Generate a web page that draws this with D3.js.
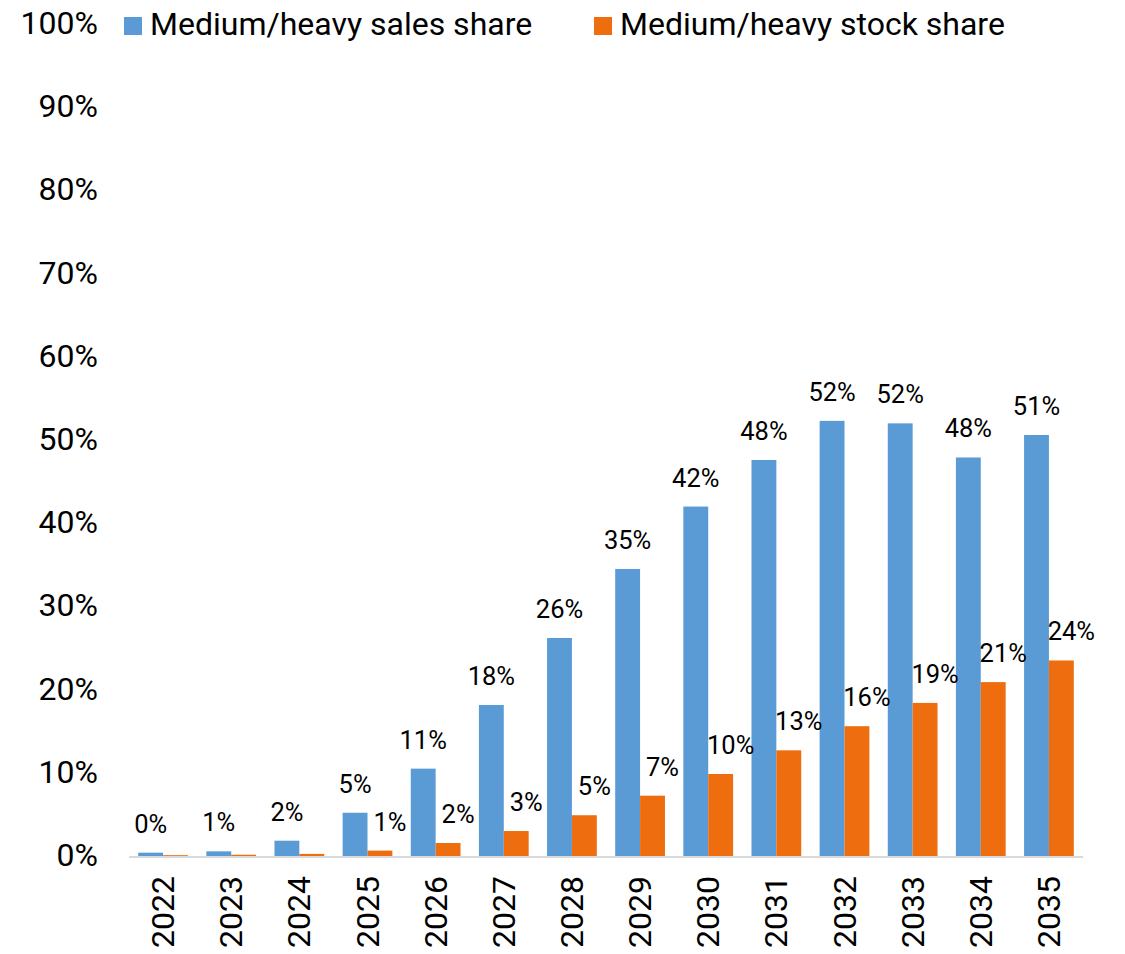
<!DOCTYPE html>
<html><head><meta charset="utf-8">
<script src="https://cdn.jsdelivr.net/npm/d3@7"></script>
<style>html,body{margin:0;padding:0;background:#fff;}svg{display:block;font-family:Roboto,"Noto Sans",sans-serif;}</style>
</head><body><div id="chart"></div>
<script>
const years = ["2022","2023","2024","2025","2026","2027","2028","2029","2030","2031","2032","2033","2034","2035"];
const salesShare = [0.4,0.56,1.84,5.2,10.5,18.15,26.2,34.5,42.0,47.6,52.3,52.0,47.9,50.6];
const stockShare = [0.1,0.15,0.25,0.65,1.56,3.0,4.9,7.25,9.86,12.7,15.6,18.4,20.9,23.5];
const salesLabels = ["0%","1%","2%","5%","11%","18%","26%","35%","42%","48%","52%","52%","48%","51%"];
const stockLabels = ["","","","1%","2%","3%","5%","7%","10%","13%","16%","19%","21%","24%"];
const yTicks = [0,10,20,30,40,50,60,70,80,90,100];
const seriesNames = ["Medium/heavy sales share","Medium/heavy stock share"];
const colors = ["#5b9bd5","#ed6d0f"];

const W=1125,H=954;
const svg=d3.select("#chart").append("svg").attr("width",W).attr("height",H);
const y=d3.scaleLinear().domain([0,100]).range([856,24]);
const x0=d3.scaleBand().domain(years).range([129,1083]).paddingInner(0.27).paddingOuter(0.135);
const x1=d3.scaleBand().domain([0,1]).range([0,x0.bandwidth()]);

// y tick labels
svg.append("g").selectAll("text").data(yTicks).join("text")
  .attr("x",98).attr("y",d=>y(d)-1).attr("text-anchor","end").attr("dominant-baseline","central")
  .attr("font-size",32).attr("fill","#000").text(d=>d+"%");

const series=[salesShare,stockShare];
const labels=[salesLabels,stockLabels];
series.forEach((vals,si)=>{
  const g=svg.append("g");
  g.selectAll("rect").data(vals).join("rect")
    .attr("x",(d,i)=>x0(years[i])+x1(si)).attr("width",x1.bandwidth())
    .attr("y",d=>y(d)).attr("height",d=>y(0)-y(d)).attr("fill",colors[si]);
  g.selectAll("text").data(vals).join("text")
    .attr("x",(d,i)=>x0(years[i])+x1(si)+x1.bandwidth()/2+(si===1?10:0))
    .attr("y",d=>y(d)-20).attr("text-anchor","middle")
    .attr("font-size",25.5).attr("fill","#000").text((d,i)=>labels[si][i]);
});

// baseline
svg.append("line").attr("x1",129).attr("x2",1083).attr("y1",y(0)+1).attr("y2",y(0)+1)
  .attr("stroke","#d9d9d9").attr("stroke-width",2);

// x labels
svg.append("g").selectAll("text").data(years).join("text")
  .attr("transform",d=>`translate(${x0(d)+x0.bandwidth()/2},876) rotate(-90)`)
  .attr("text-anchor","end").attr("dominant-baseline","central")
  .attr("font-size",32).attr("fill","#000").text(d=>d);

// legend
const legX=[124,594];
seriesNames.forEach((n,i)=>{
  svg.append("rect").attr("x",legX[i]).attr("y",17).attr("width",18).attr("height",18).attr("fill",colors[i]);
  svg.append("text").attr("x",legX[i]+26).attr("y",35).attr("font-size",32).attr("fill","#000").text(n);
});
</script></body></html>
